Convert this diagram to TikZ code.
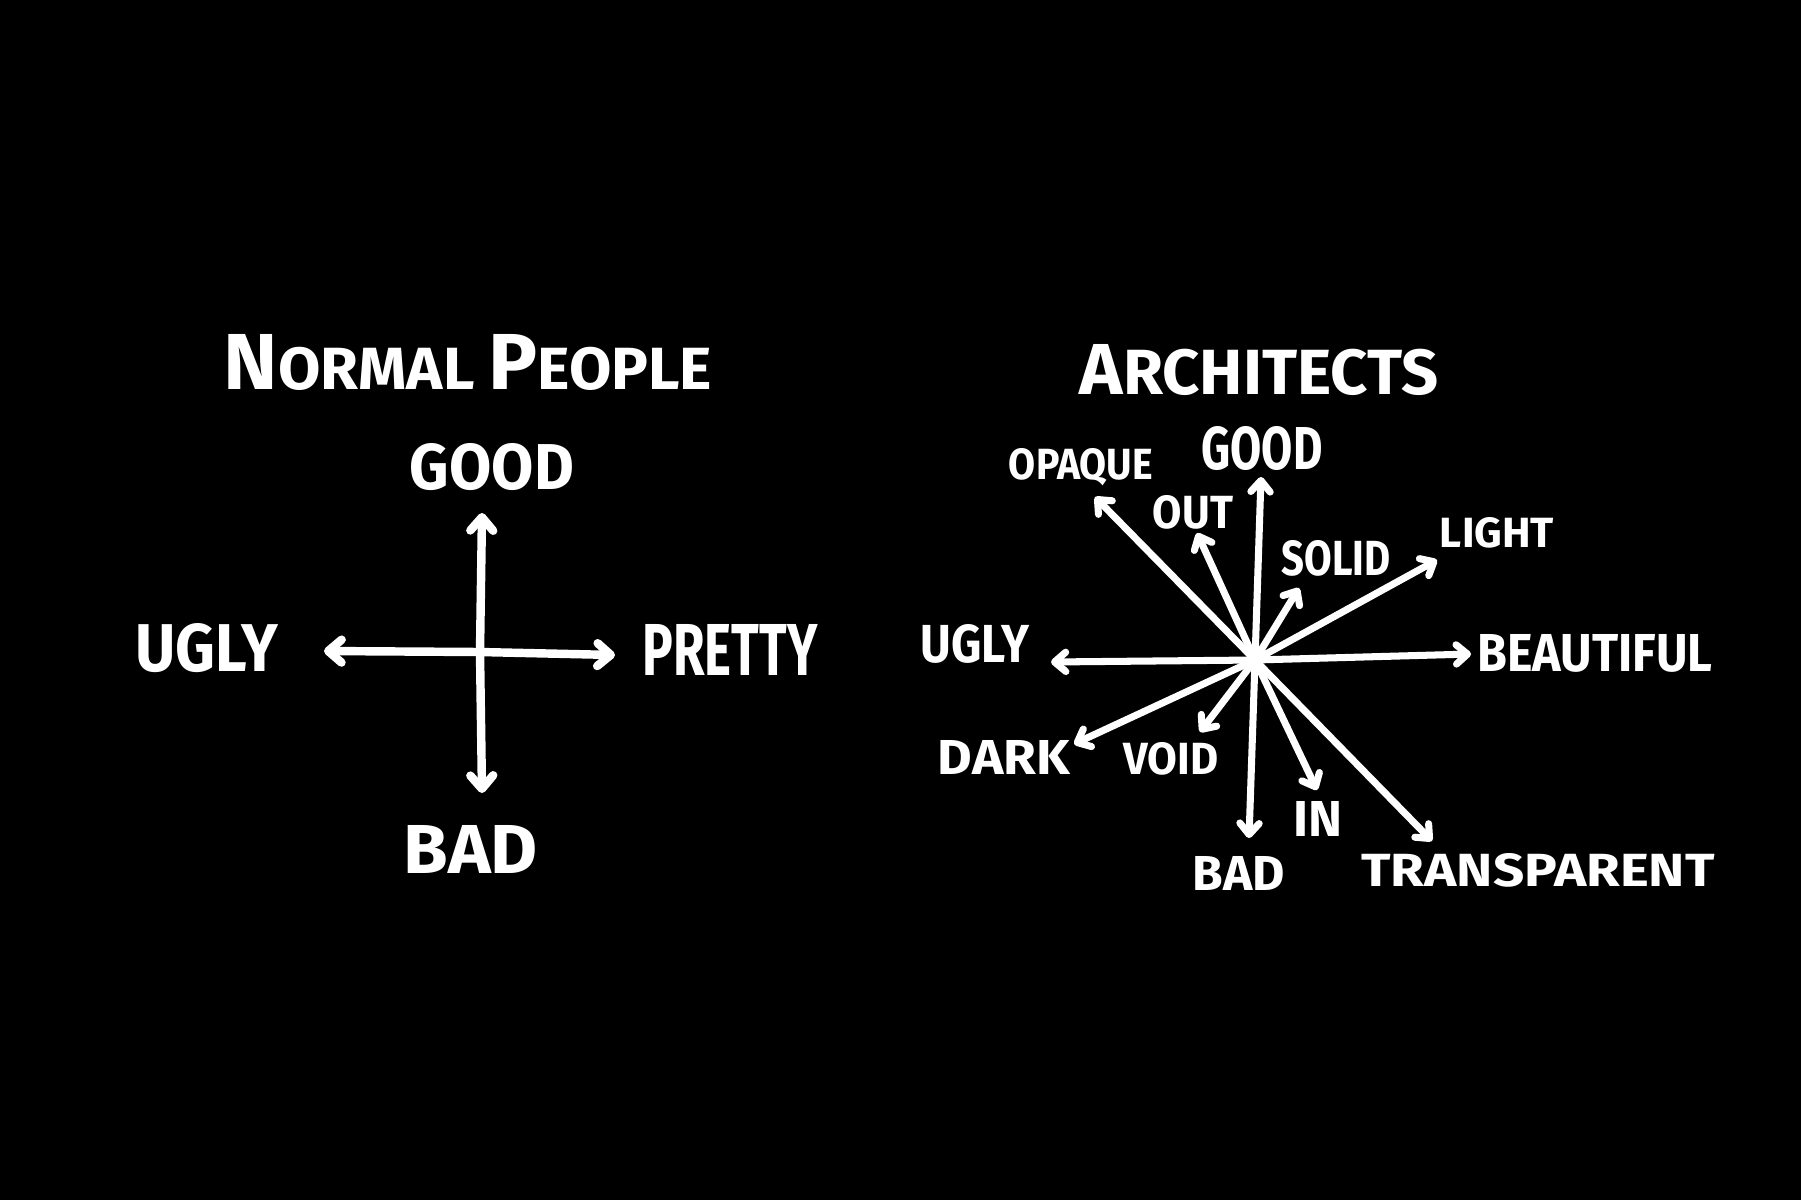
\documentclass[tikz,border=0pt]{standalone}
\usepackage{fontspec}
\usepackage{graphicx}
\usetikzlibrary{arrows.meta}
\newfontfamily\handfont{Fira Sans}[Scale=1]
\newcommand\handlbl[3]{\resizebox{#1cm}{#2cm}{\handfont\bfseries #3}}
\tikzset{
  arr/.style={draw=white, line width=2.4pt, line cap=round, line join=round,
    -{Straight Barb[length=3.8pt,width=6.5pt,round]}},
  arrs/.style={draw=white, line width=2pt, line cap=round, line join=round,
    -{Straight Barb[length=3.2pt,width=5.5pt,round]}},
  lbl/.style={text=white, inner sep=0pt, anchor=center}
}
\begin{document}
\begin{tikzpicture}[x=0.01cm,y=-0.01cm]
\fill[black] (0,0) rectangle (1801,1200);
\useasboundingbox (0,0) rectangle (1801,1200);

% ---------- Normal people ----------
\node[lbl] (tL) at (468,362) {\handlbl{4.88}{0.55}{{\fontsize{14}{14}\selectfont N}{\fontsize{10.5}{10}\selectfont ORMAL} {\fontsize{14}{14}\selectfont P}{\fontsize{10.5}{10}\selectfont EOPLE}}};
\coordinate (cL) at (480,652);
\coordinate (uL) at (482,513);
\coordinate (dL) at (482,793);
\coordinate (lL) at (324,651);
\coordinate (rL) at (615,655);
\draw[arr] (cL) -- (uL);
\draw[arr] (cL) -- (dL);
\draw[arr] (cL) -- (lL);
\draw[arr] (cL) -- (rL);
\node[lbl] (gL) at (492,467) {\handlbl{1.64}{0.46}{GOOD}};
\node[lbl] (bL) at (471,849) {\handlbl{1.34}{0.48}{BAD}};
\node[lbl] (ugL) at (207,648) {\handlbl{1.43}{0.48}{UGLY}};
\node[lbl] (pL) at (730,650) {\handlbl{1.75}{0.51}{PRETTY}};

% ---------- Architects ----------
\node[lbl] (tR) at (1259,370) {\handlbl{3.58}{0.50}{{\fontsize{13}{13}\selectfont A}{\fontsize{11.5}{11}\selectfont RCHITECTS}}};
\coordinate (cR) at (1255,660);
\coordinate (aGood) at (1261,477);
\coordinate (aBad) at (1249,838);
\coordinate (aUgly) at (1051,662);
\coordinate (aBeau) at (1471,654);
\coordinate (aOpaq) at (1095,497);
\coordinate (aOut) at (1197,533);
\coordinate (aSolid) at (1299,588);
\coordinate (aLight) at (1437,560);
\coordinate (aDark) at (1074,744);
\coordinate (aVoid) at (1200,732);
\coordinate (aIn) at (1317,790);
\coordinate (aTrans) at (1432,841);
\foreach \t in {aGood,aBad,aUgly,aBeau,aOpaq,aOut,aSolid,aLight,aDark,aVoid,aIn,aTrans}
  \draw[arrs] (cR) -- (\t);

\node[lbl] (lGood) at (1262,448) {\handlbl{1.21}{0.43}{GOOD}};
\node[lbl] (lOpaq) at (1081,467) {\handlbl{1.44}{0.31}{OPAQUE}};
\node[lbl] (lOut) at (1193,512) {\handlbl{0.80}{0.33}{OUT}};
\node[lbl] (lSolid) at (1336,558) {\handlbl{1.09}{0.35}{SOLID}};
\node[lbl] (lLight) at (1497,533) {\handlbl{1.14}{0.30}{LIGHT}};
\node[lbl] (lUgly) at (975,644) {\handlbl{1.09}{0.38}{UGLY}};
\node[lbl] (lBeau) at (1595,653) {\handlbl{2.35}{0.37}{BEAUTIFUL}};
\node[lbl] (lDark) at (1004,757) {\handlbl{1.32}{0.34}{DARK}};
\node[lbl] (lVoid) at (1171,759) {\handlbl{0.95}{0.32}{VOID}};
\node[lbl] (lIn) at (1318,819) {\handlbl{0.49}{0.35}{IN}};
\node[lbl] (lBad) at (1239,873) {\handlbl{0.92}{0.34}{BAD}};
\node[lbl] (lTrans) at (1538,870) {\handlbl{3.53}{0.33}{TRANSPARENT}};
\end{tikzpicture}
\end{document}
